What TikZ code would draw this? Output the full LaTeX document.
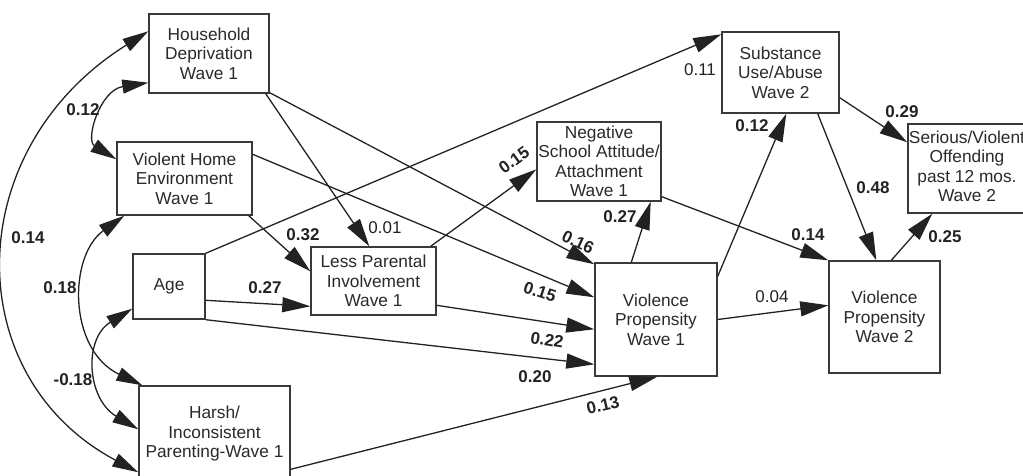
\documentclass[tikz,border=0pt]{standalone}
\usepackage{fontspec}
\setmainfont{Liberation Sans}
\usetikzlibrary{arrows.meta,calc}
\definecolor{ink}{HTML}{222222}
\definecolor{boxline}{HTML}{3A3A3A}
\definecolor{txt}{HTML}{2A2A2A}
\begin{document}
\begin{tikzpicture}[x=1pt,y=-1pt,
  var/.style={draw=boxline,line width=1.4pt,fill=white,align=center,inner sep=0pt,
    text=txt,font=\fontsize{17.3}{19.5}\selectfont},
  link/.style={draw=ink,line width=1.3pt,-{Triangle[length=28pt,width=15pt]}},
  cov/.style={draw=ink,line width=1.3pt,
    {Triangle[length=26pt,width=14pt]}-{Triangle[length=26pt,width=14pt]}},
  coefb/.style={text=ink,inner sep=0pt,font=\fontsize{17}{19}\selectfont\bfseries},
  coefn/.style={text=ink,inner sep=0pt,font=\fontsize{17}{19}\selectfont}]
\useasboundingbox (0,0) rectangle (1023,476);
\clip (0,0) rectangle (1023,476);

% variables
\node[var,minimum width=120pt,minimum height=79pt] (hd) at (209,53.5) {Household\\Deprivation\\Wave 1};
\node[var,minimum width=135pt,minimum height=73pt] (vh) at (184.5,178.5) {Violent Home\\Environment\\Wave 1};
\node[var,minimum width=72pt,minimum height=65pt] (age) at (169,286.5) {Age};
\node[var,minimum width=151pt,minimum height=96pt] (hp) at (214.5,434) {Harsh/\\Inconsistent\\Parenting-Wave 1};
\node[var,minimum width=125pt,minimum height=68pt] (lpi) at (373.5,281) {Less Parental\\Involvement\\Wave 1};
\node[var,minimum width=124pt,minimum height=79pt] (ns) at (599,161.5) {Negative\\School Attitude/\\Attachment\\Wave 1};
\node[var,minimum width=122pt,minimum height=113pt] (vp1) at (656,319.5) {Violence\\Propensity\\Wave 1};
\node[var,minimum width=117pt,minimum height=81pt] (sub) at (780.5,72.5) {Substance\\Use/Abuse\\Wave 2};
\node[var,minimum width=122pt,minimum height=89pt] (ser) at (969,168.5)
  {\begin{tabular}{@{}c@{\hspace{4pt}}}Serious/Violent\\Offending\\past 12 mos.\\Wave 2\end{tabular}};
\node[var,minimum width=111pt,minimum height=112pt] (vp2) at (884.5,317) {Violence\\Propensity\\Wave 2};

% correlations among exogenous variables
\draw[cov] ($(hd.south west)+(0,-11)$) .. controls (100,90) and (85,140) .. ($(vh.north west)+(0,18)$);
\draw[cov] ($(hd.north west)+(0,18)$) .. controls (-41,150) and (-41,377) .. ($(hp.north west)+(0,87)$);
\draw[cov] ($(vh.south west)+(8,0)$) .. controls (68,256) and (68,350) .. ($(hp.north west)+(4,0)$);
\draw[cov] ($(age.south west)+(0,-11)$) .. controls (83,339) and (87,399) .. ($(hp.north west)+(0,44)$);

% structural paths
\draw[link] ($(hd.south east)+(-4,0)$) -- ($(lpi.north west)+(59,0)$);
\draw[link] ($(vh.south east)+(-4,0)$) -- ($(lpi.north west)+(0,25)$);
\draw[link] ($(hd.south east)+(0,-1)$) -- ($(vp1.north west)+(0,2)$);
\draw[link] ($(vh.north east)+(0,13)$) -- ($(vp1.north west)+(0,35)$);
\draw[link] (age.north east) -- ($(sub.north west)+(0,3)$);
\draw[link] ($(age.north east)+(0,47)$) -- ($(lpi.north west)+(0,60)$);
\draw[link] (age.south east) -- ($(vp1.north west)+(0,102)$);
\draw[link] ($(lpi.north east)+(-6,0)$) -- ($(ns.north west)+(0,48)$);
\draw[link] ($(lpi.north east)+(0,59)$) -- ($(vp1.north west)+(0,67)$);
\draw[link] ($(hp.north east)+(0,84)$) -- ($(vp1.south west)+(63,0)$);
\draw[link] ($(vp1.north west)+(37,0)$) -- ($(ns.south east)+(-11,0)$);
\draw[link] ($(ns.south east)+(0,-5)$) -- (vp2.north west);
\draw[link] ($(vp1.north east)+(0,14)$) -- ($(sub.south west)+(65,0)$);
\draw[link] (vp1.east) -- ($(vp2.north west)+(0,45)$);
\draw[link] ($(sub.south east)+(-22,0)$) -- ($(vp2.north west)+(48,0)$);
\draw[link] ($(sub.south east)+(0,-16)$) -- ($(ser.north west)+(0,19)$);
\draw[link] ($(vp2.north west)+(63,0)$) -- ($(ser.south west)+(25,0)$);

% coefficients
\node[coefb] (c1) at (83,110) {0.12};
\node[coefb] (c2) at (28,238) {0.14};
\node[coefb] (c3) at (60,288) {0.18};
\node[coefb] (c4) at (73,380) {-0.18};
\node[coefb] (c5) at (303,235) {0.32};
\node[coefn] (c6) at (385,228) {0.01};
\node[coefb] (c7) at (265,288) {0.27};
\node[coefb,rotate=36] (c8) at (514,160) {0.15};
\node[coefb,rotate=-25] (c9) at (578,242) {0.16};
\node[coefb,rotate=-18] (c10) at (540,292) {0.15};
\node[coefb,rotate=-9] (c11) at (547,340) {0.22};
\node[coefb] (c12) at (535,377) {0.20};
\node[coefb,rotate=13] (c13) at (603,405) {0.13};
\node[coefb] (c14) at (620,217) {0.27};
\node[coefn] (c15) at (700,70) {0.11};
\node[coefb] (c16) at (752,126) {0.12};
\node[coefb] (c17) at (808,235) {0.14};
\node[coefn] (c18) at (772,297) {0.04};
\node[coefb] (c19) at (873,188) {0.48};
\node[coefb] (c20) at (902,112) {0.29};
\node[coefb] (c21) at (945,237) {0.25};
\end{tikzpicture}
\end{document}
